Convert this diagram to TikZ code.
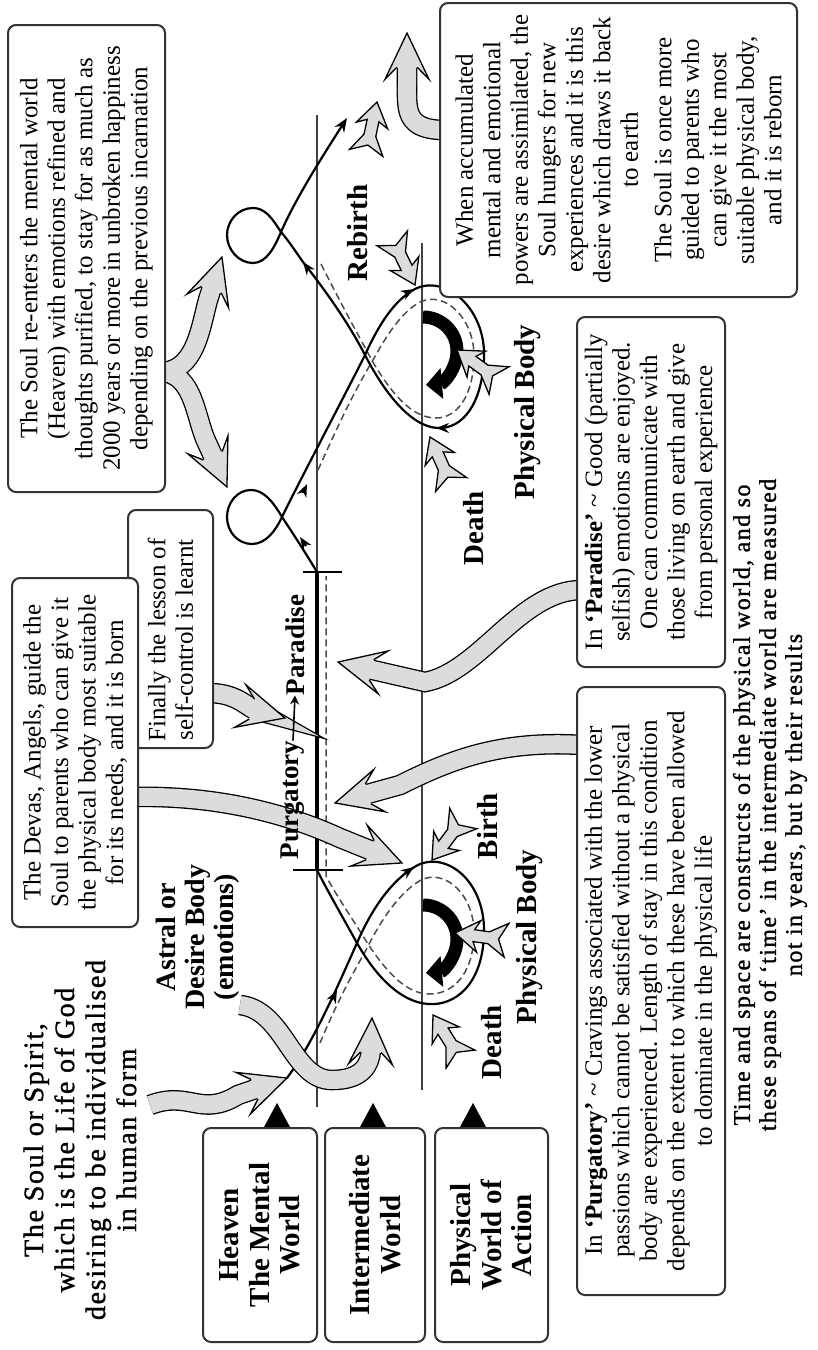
\documentclass[tikz,border=0pt]{standalone}
\usepackage{fontspec}
\setmainfont{Liberation Serif}
\newfontfamily\deco[LetterSpace=6, FakeBold=1.2]{Liberation Serif}
\usetikzlibrary{arrows.meta,decorations.markings}
\definecolor{fatgray}{HTML}{DCDCDC}
\newcommand\headshape{\fill[fatgray] (0.2,0) -- (-46,22) -- (-34,9.2) -- (-34,-9.2) -- (-46,-22) -- cycle;
  \draw[line width=1.3pt, line join=miter] (-34,10.3) -- (-46,22) -- (0.2,0) -- (-46,-22) -- (-34,-10.3);}
\newcommand\fatarrow[1]{\draw[fatout] #1; \draw[fatin] #1; \path[fathead] #1;}
\begin{document}
\begin{tikzpicture}[x=1pt,y=-1pt,
  box/.style={draw=black!80, line width=2pt, rounded corners=8pt, fill=white, rotate=90, align=center, inner sep=0pt},
  boxtxt/.style={font=\fontsize{25}{27.5}\selectfont},
  labfont/.style={font=\bfseries\fontsize{29}{30.5}\selectfont},
  lab/.style={rotate=90, align=center, labfont, inner sep=0pt},
  bound/.style={line width=1.4pt, black!75},
  soul/.style={line width=2.2pt, line join=round},
  astral/.style={line width=1.5pt, dashed, dash pattern=on 7pt off 4pt, black!70},
  arr/.style={-{Stealth[length=13pt,width=10pt]}, line width=2pt},
  fatout/.style={line width=20.6pt, black, shorten >=33pt},
  fatin/.style={line width=18pt, fatgray, shorten >=33pt},
  fathead/.style={decorate, decoration={markings, mark=at position -0.3pt with {\headshape}}},
  blackarc/.style={line width=13pt, -{Triangle[length=16pt,width=30pt]}},
  pics/feather/.style={code={
    \filldraw[fill=fatgray, draw=black, line width=1.3pt, line join=miter]
      (0,0) -- (-24,16) -- (-19,6) -- (-34,6) -- (-52,17) -- (-44,0) -- (-52,-17) -- (-34,-6) -- (-19,-6) -- (-24,-16) -- cycle;}}
]
\useasboundingbox (0,0) rectangle (818,1350);
\fill[white] (0,0) rectangle (818,1350);

% world boundaries
\draw[bound] (317,115) -- (317,1107);
\draw[bound] (422,243) -- (422,1090);

% markers under the world boxes
\fill (264,1127) -- (277,1103) -- (290,1127) -- cycle;
\fill (360,1127) -- (373,1103) -- (386,1127) -- cycle;
\fill (460,1127) -- (473,1103) -- (486,1127) -- cycle;

% black life arcs
\draw[blackarc] (423,905) arc[start angle=-90, end angle=85, radius=34];
\draw[blackarc] (423,317) arc[start angle=-90, end angle=85, radius=34];

% dashed astral paths
\draw[astral] (320,1043) .. controls (338,1000) and (352,975) .. (366,950)
  .. controls (382,918) and (400,892) .. (421,880) .. controls (446,868) and (475,896) .. (474,935)
  .. controls (473,975) and (452,995) .. (428,994) .. controls (404,993) and (384,968) .. (368,944)
  .. controls (352,918) and (336,895) .. (326,876) -- (326,576);
\draw[astral] (318,470) .. controls (336,430) and (352,395) .. (373,360)
  .. controls (388,333) and (402,312) .. (420,302) .. controls (446,290) and (475,320) .. (474,358)
  .. controls (473,398) and (456,418) .. (436,418) .. controls (410,418) and (390,390) .. (374,364)
  .. controls (358,335) and (338,298) .. (320,262);

% soul path, first life
\draw[soul] (287,1078) .. controls (315,1040) and (338,985) .. (357,943)
  .. controls (372,908) and (392,880) .. (416,866) .. controls (445,850) and (486,880) .. (484,935)
  .. controls (482,985) and (455,1006) .. (428,1004) .. controls (400,1002) and (375,975) .. (357,943)
  .. controls (342,916) and (326,888) .. (317,870);
\draw[line width=3.5pt] (317,870) -- (317,572);
\draw[line width=2pt] (293,870) -- (343,870);
\draw[line width=2pt] (303,572) -- (342,572);
% soul path, heaven and second life
\draw[soul, -{Stealth[length=14pt,width=11pt]}] (317,572) .. controls (305,552) and (294,535) .. (282,517)
  .. controls (272,500) and (263,490) .. (251,490) .. controls (237,490) and (227,503) .. (227,517)
  .. controls (227,532) and (238,544) .. (252,544) .. controls (266,544) and (276,530) .. (282,517)
  .. controls (300,480) and (345,395) .. (365,355)
  .. controls (380,322) and (395,300) .. (415,289) .. controls (445,274) and (486,308) .. (484,358)
  .. controls (482,405) and (462,429) .. (438,428) .. controls (410,427) and (383,390) .. (365,355)
  .. controls (348,322) and (325,290) .. (303,262) .. controls (296,252) and (288,240) .. (281,232)
  .. controls (272,218) and (265,208) .. (253,208) .. controls (238,208) and (227,221) .. (227,235)
  .. controls (227,250) and (239,263) .. (253,263) .. controls (267,263) and (275,246) .. (281,232)
  .. controls (295,200) and (320,160) .. (347,118);
% direction marks on the soul path
\draw[arr] (332,1000) -- (337,990);
\draw[arr] (404,874) -- (414,867);
\draw[arr] (306,546) -- (300,537);
\draw[arr] (303,493) -- (307,484);
\draw[arr] (442,428) -- (436,428);
\draw[arr] (309,270) -- (303,262);
\draw[arr] (405,294) -- (414,289);

% small feathered pointers
\pic[rotate=122] at (433,1015) {feather};
\pic[rotate=-127] at (432,860) {feather};
\pic[rotate=172] at (455,933) {feather};
\pic[rotate=114] at (430,437) {feather};
\pic[rotate=144] at (457,350) {feather};
\pic[rotate=-64] at (415,285) {feather};
\pic[rotate=78] at (377,102) {feather};

% fat grey connectors
\coordinate (aS) at (160,372);
\coordinate (aU) at (222,257);
\coordinate (aD) at (227,487);
\draw[fatout] (aS) .. controls (195,372) and (200,330) .. (208,300) -- (aU);
\draw[fatout] (aS) .. controls (195,372) and (195,420) .. (208,445) -- (aD);
\draw[fatin] (aS) .. controls (195,372) and (200,330) .. (208,300) -- (aU);
\draw[fatin] (aS) .. controls (195,372) and (195,420) .. (208,445) -- (aD);
\path[fathead] (aS) .. controls (195,372) and (200,330) .. (208,300) -- (aU);
\path[fathead] (aS) .. controls (195,372) and (195,420) .. (208,445) -- (aD);

\coordinate (bS) at (445,130);
\coordinate (bT) at (407,33);
\fatarrow{(bS) .. controls (405,130) and (407,110) .. (407,85) -- (bT)}

\coordinate (cS) at (132,797);
\coordinate (cT) at (402,863);
\fatarrow{(cS) .. controls (220,795) and (290,815) .. (340,838) -- (cT)}

\coordinate (dS) at (208,693);
\coordinate (dT) at (285,718);
\fatarrow{(dS) .. controls (235,693) and (245,705) .. (255,710) -- (dT)}

\coordinate (eS) at (582,590);
\coordinate (eT) at (338,662);
\fatarrow{(eS) .. controls (520,590) and (480,672) .. (425,682) -- (eT)}

\coordinate (fS) at (582,745);
\coordinate (fT) at (335,803);
\fatarrow{(fS) .. controls (500,740) and (450,760) .. (400,785) -- (fT)}

\coordinate (gS) at (150,1105);
\coordinate (gT) at (287,1078);
\fatarrow{(gS) .. controls (190,1090) and (200,1118) .. (238,1095) -- (gT)}

\coordinate (hS) at (240,1005);
\coordinate (hT) at (372,1018);
\fatarrow{(hS) .. controls (285,1010) and (292,1080) .. (332,1080) .. controls (362,1080) and (370,1065) .. (371,1050) -- (hT)}

% boxes
\node[box, minimum width=238pt, minimum height=85pt] (boxD) at (170.5,629) {};
\node[boxtxt, rotate=90, align=center] at (170.5,640) {Finally the lesson of\\ self-control is learnt};
\node[box, boxtxt, minimum width=467pt, minimum height=157pt] (boxA) at (86.5,258.5)
  {The Soul re-enters the mental world\\ (Heaven) with emotions refined and\\ thoughts purified, to stay for as much as\\ 2000 years or more in unbroken happiness\\ depending on the previous incarnation};
\node[box, boxtxt, minimum width=294pt, minimum height=357pt] (boxB) at (618.5,150)
  {When accumulated\\ mental and emotional\\ powers are assimilated, the\\ Soul hungers for new\\ experiences and it is this\\ desire which draws it back\\ to earth\\[6pt] The Soul is once more\\ guided to parents who\\ can give it the most\\ suitable physical body,\\ and it is reborn};
\node[box, boxtxt, minimum width=349pt, minimum height=126pt] (boxC) at (75,752.5)
  {The Devas, Angels, guide the\\ Soul to parents who can give it\\ the physical body most suitable\\ for its needs, and it is born};
\node[box, boxtxt, minimum width=350pt, minimum height=148pt] (boxE) at (651,492)
  {In \textbf{‘Paradise’} \textasciitilde\ Good (partially\\ selfish) emotions are enjoyed.\\ One can communicate with\\ those living on earth and give\\ from personal experience};
\node[box, boxtxt, minimum width=608pt, minimum height=148pt] (boxF) at (651,991)
  {In \textbf{‘Purgatory’} \textasciitilde\ Cravings associated with the lower\\ passions which cannot be satisfied without a physical\\ body are experienced. Length of stay in this condition\\ depends on the extent to which these have been allowed\\ to dominate in the physical life};

\node[box, labfont, minimum width=214pt, minimum height=114pt] (heaven) at (260,1235) {Heaven\\ The Mental\\ World};
\node[box, labfont, minimum width=214pt, minimum height=100pt] (inter) at (375,1235) {Intermediate\\ World};
\node[box, labfont, minimum width=214pt, minimum height=113pt] (phys) at (491.5,1235) {Physical\\ World of\\ Action};

% labels
\node[lab] (rebirth) at (358,233) {Rebirth};
\node[lab] (death2) at (474,528) {Death};
\node[lab] (pb2) at (528,412) {Physical Body};
\node[lab] (birth) at (488,826) {Birth};
\node[lab] (death1) at (492,1042) {Death};
\node[lab] (pb1) at (530,937) {Physical Body};
\node[lab, font=\bfseries\fontsize{27}{28}\selectfont] (purg) at (293,800) {Purgatory};
\node[lab, font=\bfseries\fontsize{27}{28}\selectfont] (para) at (295,645) {Paradise};
\draw[-{Stealth[length=9pt,width=9pt]}, line width=1.6pt] (purg.east) -- (para.west);
\node[lab, font=\bfseries\fontsize{28}{29}\selectfont] (astrallab) at (198,937) {Astral or\\ Desire Body\\ (emotions)};

% titles
\node[rotate=90, align=center, font=\deco\fontsize{28}{31}\selectfont] (title) at (80,1140)
  {The Soul or Spirit,\\ which is the Life of God\\ desiring to be individualised\\ in human form};
\node[rotate=90, align=center, font=\deco\fontsize{24}{26}\selectfont] (note) at (770,805)
  {Time and space are constructs of the physical world, and so\\ these spans of ‘time’ in the intermediate world are measured\\ not in years, but by their results};
\end{tikzpicture}
\end{document}
